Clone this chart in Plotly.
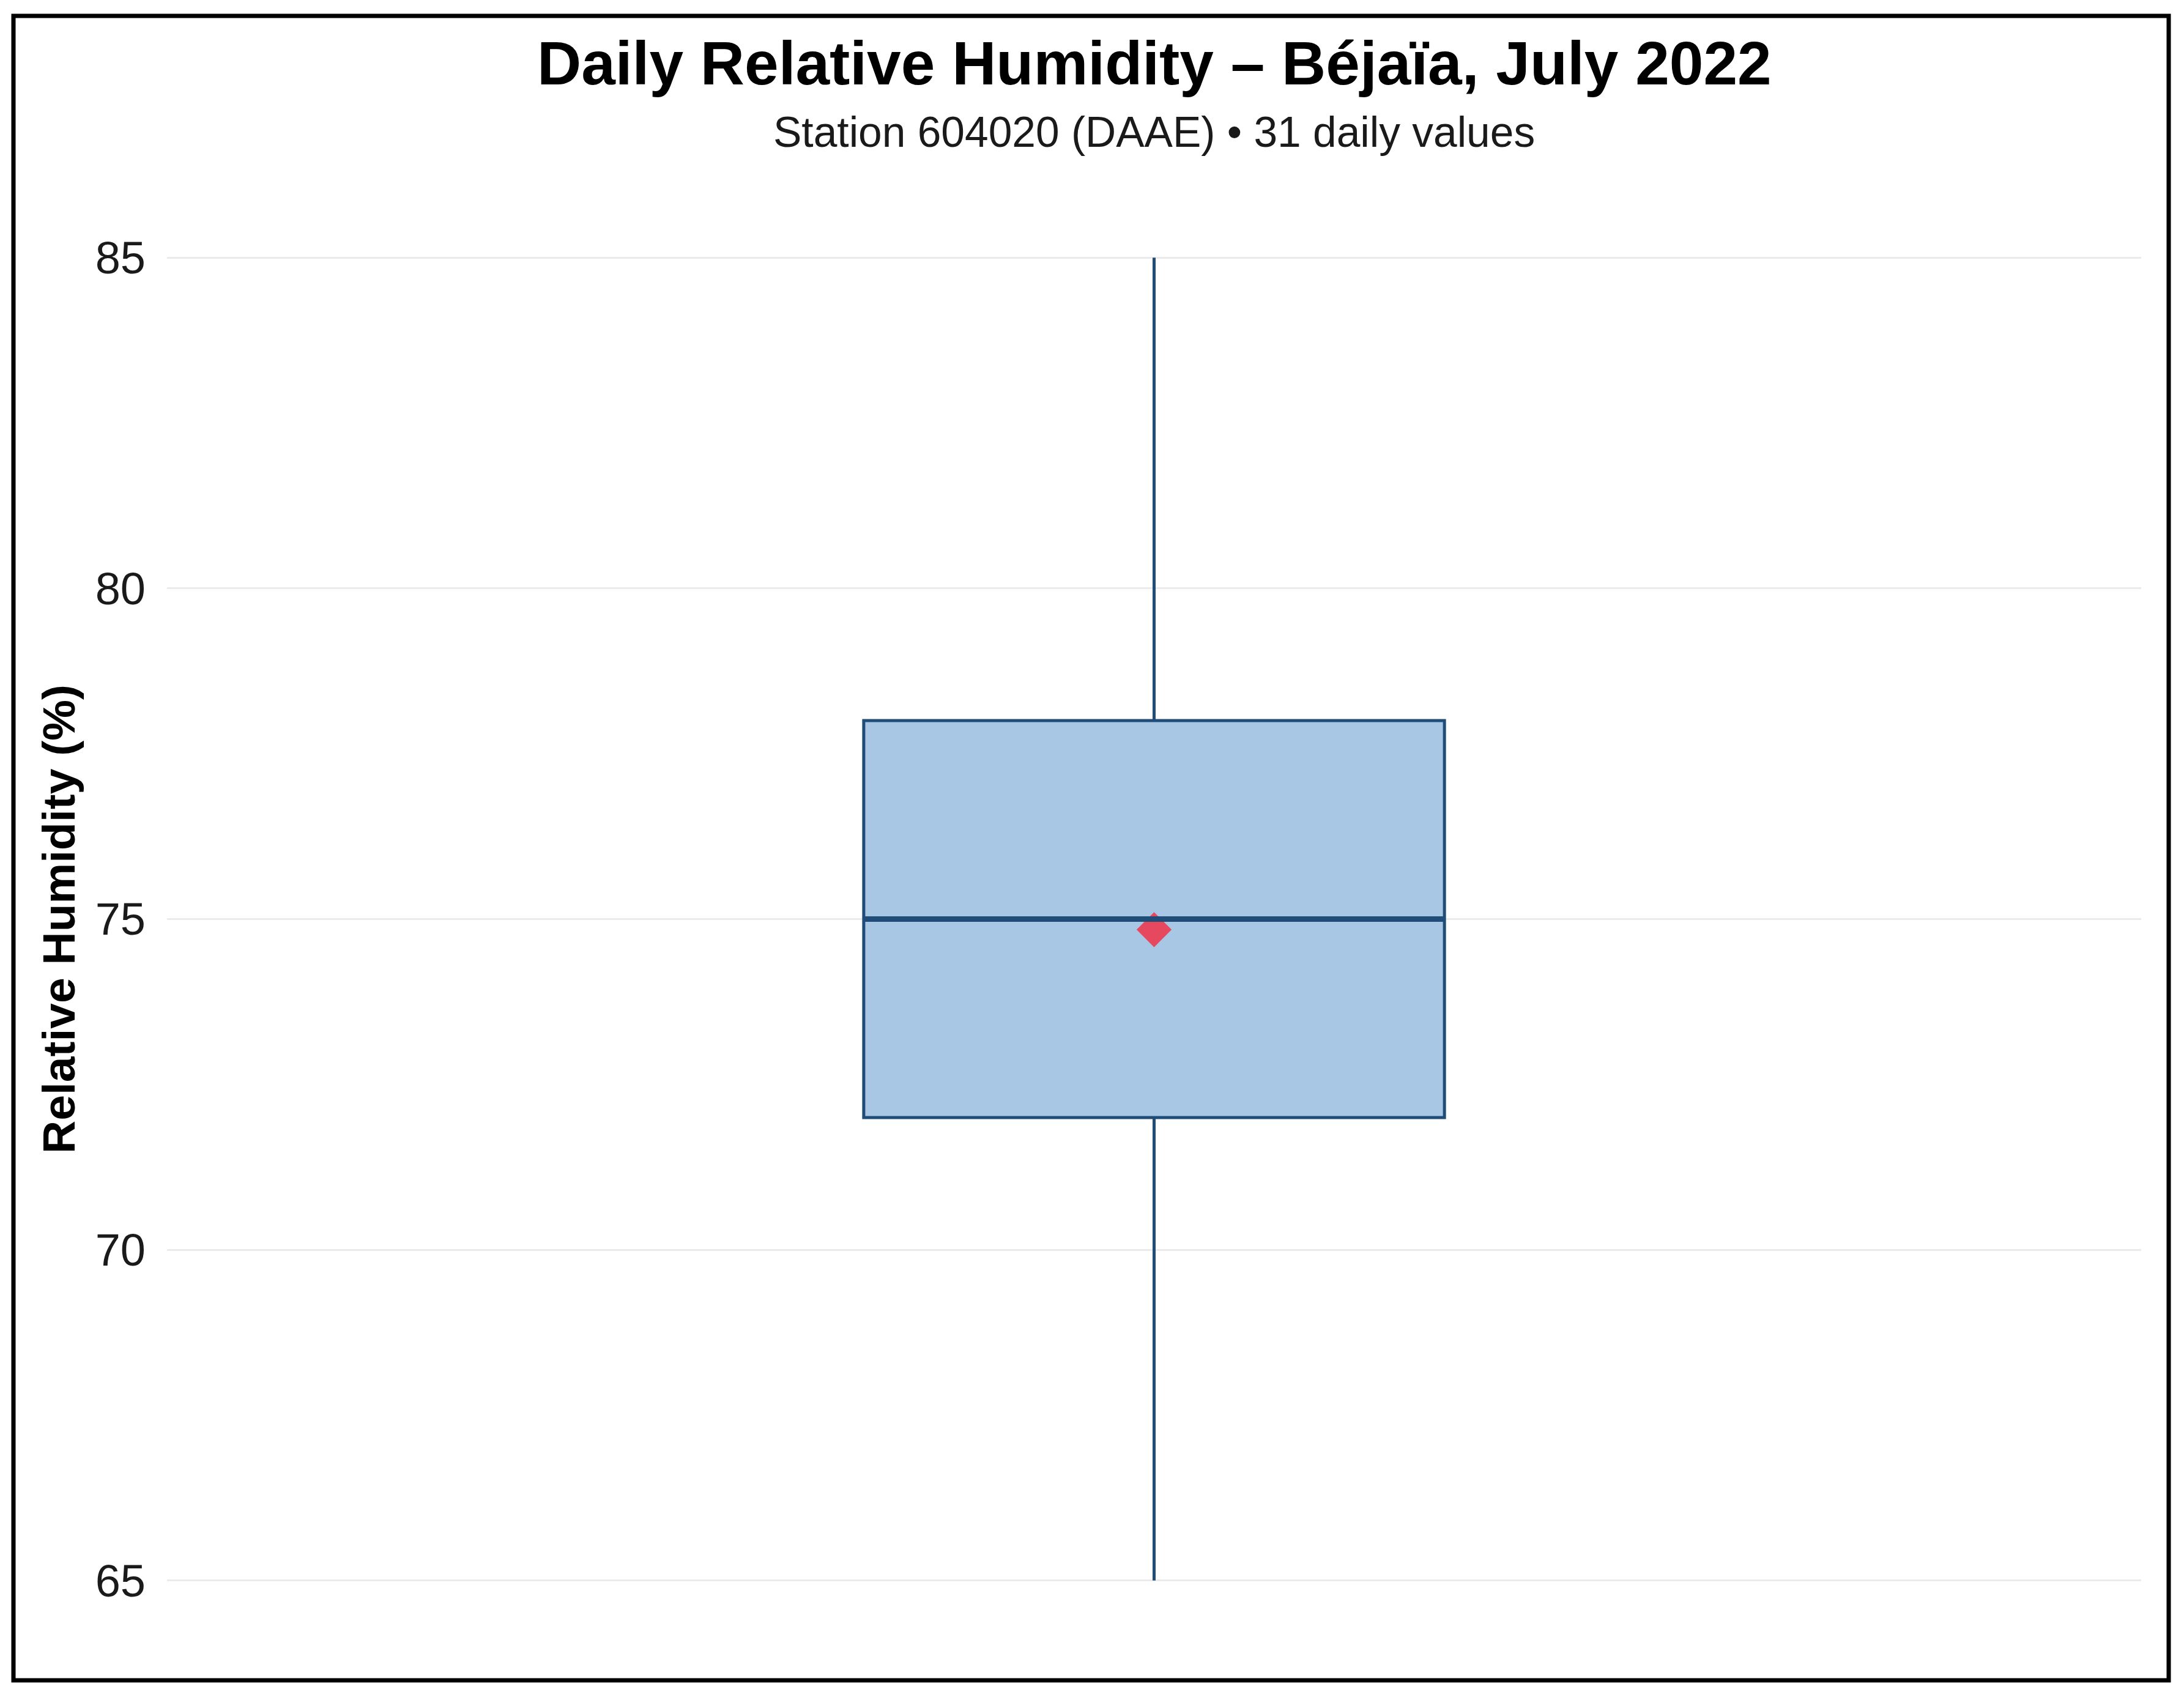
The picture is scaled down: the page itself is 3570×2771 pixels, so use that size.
import plotly.graph_objects as go

NAVY = '#204D78'; FILL = '#A7C7E5'; RED = '#E6495F'; GRID = '#EBEBEB'; INK = '#1A1A1A'
FONT = 'Liberation Sans, Arial, sans-serif'

# data
station = ['Béjaïa']
rh_min = [65.0]
rh_q1 = [72.0]
rh_median = [75.0]
rh_q3 = [78.0]
rh_max = [85.0]
rh_mean = [74.84]
y_ticks = [65, 70, 75, 80, 85]

# canvas and plot area, in page px; the page body adds an 8px margin
OFF = 8
W, H = 3570 - OFF, 2771 - OFF
L, R, T, B = 273 - OFF, 3500 - OFF, 313 - OFF, 2692 - OFF
BOX_W = 0.353


def px(x):
    return (x - OFF - L) / (R - L)


def py(y):
    return (B - (y - OFF)) / (B - T)


fig = go.Figure()
fig.add_trace(go.Box(
    x=station, q1=rh_q1, median=rh_median, q3=rh_q3,
    lowerfence=rh_min, upperfence=rh_max,
    width=BOX_W, whiskerwidth=0, boxpoints=False,
    fillcolor=FILL, line=dict(color=NAVY, width=5),
    hoverinfo='y', name='RH',
))
fig.add_trace(go.Scatter(
    x=station, y=rh_mean, mode='markers', name='Mean',
    marker=dict(symbol='diamond', size=44, color=RED, line=dict(width=0)),
    hovertemplate='Mean: %{y:.1f}%<extra></extra>',
))

# thicker median bar, like the ggplot original
fig.add_shape(type='line', xref='x', yref='y', x0=-BOX_W / 2, x1=BOX_W / 2,
              y0=rh_median[0], y1=rh_median[0], line=dict(color=NAVY, width=9))
# black frame round the whole figure
fig.add_shape(type='rect', xref='paper', yref='paper',
              x0=px(22), x1=px(3545), y0=py(2747), y1=py(26),
              line=dict(color='black', width=7), fillcolor='rgba(0,0,0,0)', layer='above')

fig.add_annotation(text='<b>Daily Relative Humidity – Béjaïa, July 2022</b>',
                   xref='paper', yref='paper', x=0.5, y=py(103), xanchor='center', yanchor='middle',
                   showarrow=False, font=dict(family=FONT, size=100, color='black'))
fig.add_annotation(text='Station 604020 (DAAE) • 31 daily values',
                   xref='paper', yref='paper', x=0.5, y=py(216), xanchor='center', yanchor='middle',
                   showarrow=False, font=dict(family=FONT, size=69.5, color=INK))

fig.update_layout(
    width=W, height=H,
    margin=dict(l=L, r=W - R, t=T, b=H - B),
    plot_bgcolor='white', paper_bgcolor='white',
    font=dict(family=FONT, color=INK),
    showlegend=False,
    xaxis=dict(type='category', range=[-0.6, 0.6], showticklabels=False,
               showgrid=False, zeroline=False, showline=False, ticks=''),
    yaxis=dict(range=[64, 86], tickvals=y_ticks, showgrid=True, gridcolor=GRID, gridwidth=3,
               zeroline=False, showline=False, ticks='', ticklabelstandoff=34,
               tickfont=dict(family=FONT, size=74, color=INK),
               title=dict(text='<b>Relative Humidity (%)</b>', standoff=8,
                          font=dict(family=FONT, size=75, color='black'))),
)

fig.write_html('out.html')
